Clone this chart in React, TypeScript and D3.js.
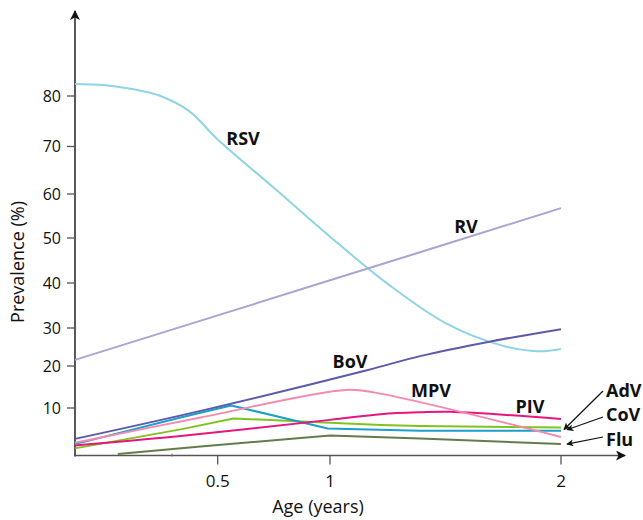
import React from "react";
import * as d3 from "d3";

type Pt = [number, number];

// Age (years), prevalence (%)
const rsv: Pt[] = [[0, 82.4], [0.1, 82.2], [0.2, 81.4], [0.3, 80], [0.4, 77], [0.5, 71.4], [0.75, 61.3], [1, 50.3], [1.25, 39.8], [1.5, 31.1], [1.75, 25.3], [1.9, 23.9], [2, 24.5]];
const rv: Pt[] = [[0, 21.6], [0.5, 32.8], [1, 40.6], [1.5, 48.6], [2, 56.8]];
const bov: Pt[] = [[0, 3.5], [0.44, 9.4], [1.16, 19.0], [1.39, 22.6], [1.69, 26.4], [2, 29.7]];
const mpv: Pt[] = [[0, 2.7], [0.44, 8.0], [1.07, 14.3], [1.2, 13.6], [2, 3.9]];
const cov: Pt[] = [[0, 2.4], [0.37, 8.0], [0.56, 10.6], [0.99, 5.7], [1.39, 5.2], [2, 5.2]];
const adv: Pt[] = [[0, 1.5], [0.37, 5.5], [0.57, 7.8], [0.9, 7.1], [1.22, 6.4], [1.39, 6.2], [2, 5.9]];
const piv: Pt[] = [[0, 2.1], [0.37, 4.1], [1, 7.5], [1.22, 8.7], [1.39, 9.1], [1.52, 9.2], [2, 7.7]];
const flu: Pt[] = [[0.15, 0.3], [0.44, 1.9], [1, 4.2], [1.39, 3.6], [2, 2.4]];

const yTicks = [10, 20, 30, 40, 50, 60, 70, 80];
const xTicks = [0.5, 1, 2];
const xTickLabels = ["0.5", "1", "2"];
const xMinorTicks = [0.34];

const FONT = "'Open Sans', 'Noto Sans', sans-serif";

// hand-drawn (irregular) axes, reproduced with piecewise-linear scales
const x = d3.scaleLinear().domain([0, 0.5, 1, 2, 2.28]).range([75, 217.7, 330, 561, 625]);
const y = d3.scaleLinear().domain([0, 10, 20, 30, 40, 50, 60, 70, 80, 90]).range([455.5, 408, 366, 328, 283, 238, 194, 146.5, 96, 45.5]);

const smooth = d3.line<Pt>().x(d => x(d[0])).y(d => y(d[1])).curve(d3.curveCatmullRom.alpha(0.5));
const straight = d3.line<Pt>().x(d => x(d[0])).y(d => y(d[1])).curve(d3.curveLinear);

const series = [
  { name: "RSV", data: rsv, color: "#8fd4e4", gen: smooth },
  { name: "RV", data: rv, color: "#aba3d2", gen: straight },
  { name: "Flu", data: flu, color: "#637c4c", gen: straight },
  { name: "AdV", data: adv, color: "#80c31f", gen: straight },
  { name: "CoV", data: cov, color: "#1aa0c9", gen: straight },
  { name: "PIV", data: piv, color: "#e5167d", gen: smooth },
  { name: "MPV", data: mpv, color: "#f38bae", gen: smooth },
  { name: "BoV", data: bov, color: "#5d5aa9", gen: smooth },
];

const inlineLabels = [
  { text: "RSV", x: 243, y: 145 },
  { text: "RV", x: 466, y: 233 },
  { text: "BoV", x: 350, y: 368 },
  { text: "MPV", x: 431, y: 397 },
  { text: "PIV", x: 530, y: 413 },
];

const calloutLabels = [
  { text: "AdV", data: adv, lx: 606, ly: 397, tail: [603, 391], dx: 3, dy: 2 },
  { text: "CoV", data: cov, lx: 606, ly: 421, tail: [603, 417], dx: 6, dy: -1 },
  { text: "Flu", data: flu, lx: 606, ly: 446, tail: [603, 437], dx: 6, dy: 0 },
];

export default function App() {
  return (
    <svg width={643} height={520} style={{ position: "absolute", left: 0, top: 0, background: "#fff" }} fontFamily={FONT}>
      <defs>
        <marker id="ah" viewBox="0 0 10 10" refX="9" refY="5" markerWidth="9" markerHeight="7" orient="auto" markerUnits="userSpaceOnUse">
          <path d="M0,0 L10,5 L0,10 L2.5,5 Z" fill="#111" />
        </marker>
        <marker id="axArrow" viewBox="0 0 10 10" refX="9" refY="5" markerWidth="13" markerHeight="10" orient="auto" markerUnits="userSpaceOnUse">
          <path d="M0,0 L10,5 L0,10 L2.5,5 Z" fill="#111" />
        </marker>
      </defs>

      {/* axes */}
      <line x1={x(0)} x2={x(0)} y1={y(0) + 1} y2={11} stroke="#111" strokeWidth={1.4} markerEnd="url(#axArrow)" />
      <line x1={x(0)} x2={625} y1={y(0)} y2={y(0)} stroke="#555" strokeWidth={1.6} markerEnd="url(#axArrow)" />

      {yTicks.map(t => (
        <g key={t}>
          <line x1={x(0) - 8} x2={x(0)} y1={y(t)} y2={y(t)} stroke="#555" strokeWidth={1.3} />
          <text x={61} y={y(t)} dy="0.35em" textAnchor="end" fontSize={16} fill="#111">{t}</text>
        </g>
      ))}
      {xTicks.map((t, i) => (
        <g key={t}>
          <line x1={x(t)} x2={x(t)} y1={y(0)} y2={y(0) + 9} stroke="#555" strokeWidth={1.3} />
          <text x={x(t)} y={487} textAnchor="middle" fontSize={17} fill="#111">{xTickLabels[i]}</text>
        </g>
      ))}
      {xMinorTicks.map(t => (
        <line key={t} x1={x(t)} x2={x(t)} y1={y(0) - 2} y2={y(0) + 1} stroke="#777" strokeWidth={1} />
      ))}

      <text x={318} y={513} textAnchor="middle" fontSize={18} fill="#111">Age (years)</text>
      <text transform={`translate(24,262) rotate(-90)`} textAnchor="middle" fontSize={18} fill="#111">Prevalence (%)</text>

      {/* series */}
      {series.map(s => (
        <path key={s.name} d={s.gen(s.data) || ""} fill="none" stroke={s.color} strokeWidth={2} strokeLinejoin="round" />
      ))}

      {inlineLabels.map(l => (
        <text key={l.text} x={l.x} y={l.y} textAnchor="middle" fontSize={18} fontWeight={700} fill="#111">{l.text}</text>
      ))}

      {calloutLabels.map(c => {
        const last = c.data[c.data.length - 1];
        const tx = x(last[0]) + c.dx;
        const ty = y(last[1]) + c.dy;
        return (
          <g key={c.text}>
            <line x1={c.tail[0]} y1={c.tail[1]} x2={tx} y2={ty} stroke="#111" strokeWidth={1.2} markerEnd="url(#ah)" />
            <text x={c.lx} y={c.ly} fontSize={18} fontWeight={700} fill="#111">{c.text}</text>
          </g>
        );
      })}
    </svg>
  );
}
